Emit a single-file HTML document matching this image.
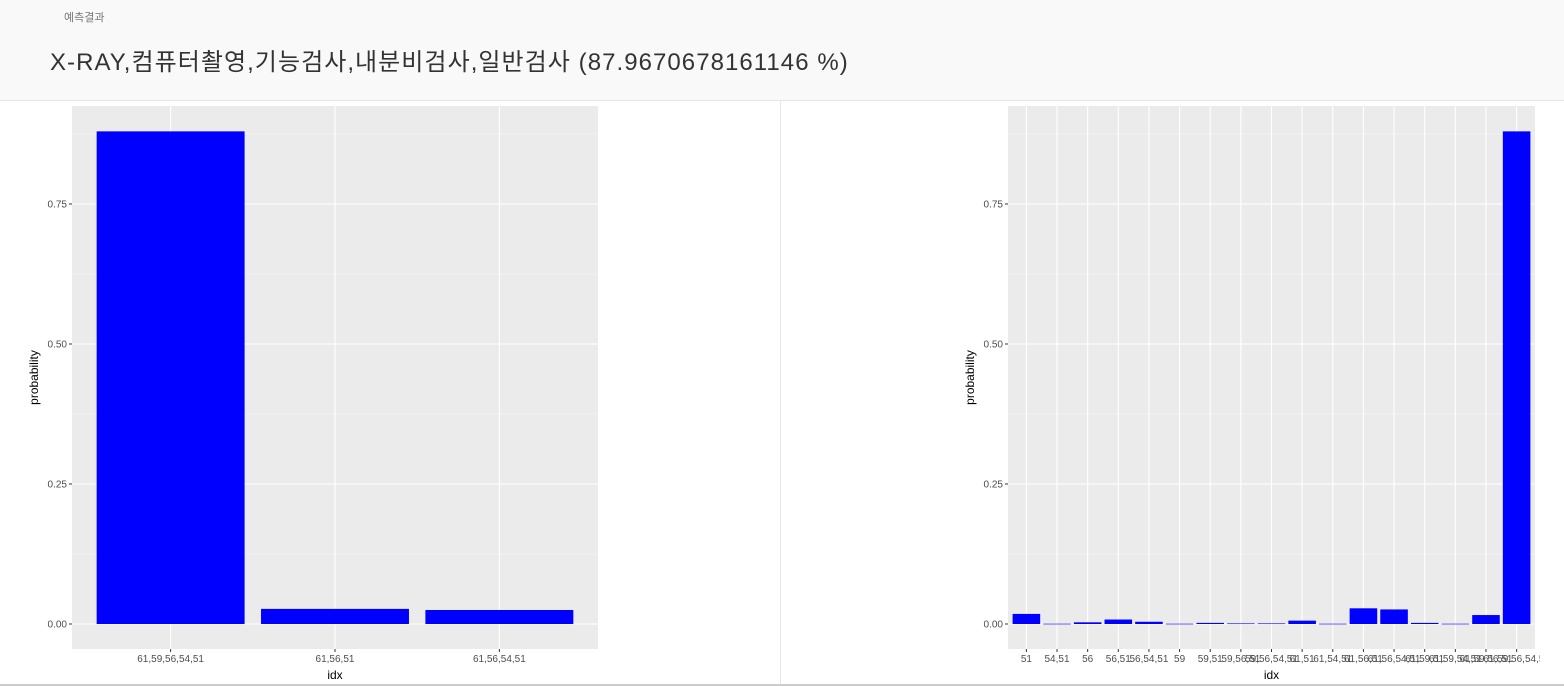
<!DOCTYPE html>
<html><head><meta charset="utf-8"><style>
body{margin:0;width:1564px;height:687px;overflow:hidden;background:#fff;font-family:"Liberation Sans","Noto Sans CJK KR",sans-serif;}
#hdr{position:absolute;left:0;top:0;width:1564px;height:100px;background:#f9f9f9;border-bottom:1px solid #e6e6e6;}
#lbl{position:absolute;left:64px;top:9px;font-size:11px;color:#777;}
#ttl{position:absolute;left:50px;top:42px;font-size:24px;color:#333;white-space:nowrap;letter-spacing:1.05px;}
#div{position:absolute;left:780px;top:101px;width:1px;height:584px;background:#e6e6e6;}
#bot{position:absolute;left:0;top:684px;width:1564px;height:2px;background:#ccc;}
svg{position:absolute;left:0;top:0;}
</style></head><body>
<div id="hdr">
<div id="lbl">예측결과</div>
<div id="ttl">X-RAY,컴퓨터촬영,기능검사,내분비검사,일반검사 (87.9670678161146 %)</div>
</div>
<div id="div"></div>
<div id="bot"></div>
<svg id="s" width="1564" height="687">
<defs><clipPath id="rc"><rect x="781" y="100" width="759" height="587"/></clipPath></defs>
</svg>
<script>
const leftCats=["61,59,56,54,51","61,56,51","61,56,54,51"];
const leftVals=[0.8797,0.027,0.025];
const rightCats=["51","54,51","56","56,51","56,54,51","59","59,51","59,56,51","59,56,54,51","61,51","61,54,51","61,56,51","61,56,54,51","61,59,51","61,59,54,51","61,59,56,51","61,59,56,54,51"];
const rightVals=[0.018,0.0005,0.003,0.008,0.004,0.0005,0.002,0.001,0.001,0.006,0.0005,0.028,0.026,0.002,0.0005,0.016,0.8797];
const yTicks=[0,0.25,0.5,0.75];
const yTickLabels=["0.00","0.25","0.50","0.75"];
const NS="http://www.w3.org/2000/svg";
const svg=document.getElementById('s');
function mk(tag,attrs,parent){const e=document.createElementNS(NS,tag);for(const k in attrs)e.setAttribute(k,attrs[k]);(parent||svg).appendChild(e);return e;}
function chart(x0,x1,cats,vals,name,clip){
  const top=106,bot=649,y0=624,ppu=560;
  const y=v=>y0-v*ppu;
  const n=cats.length,unit=(x1-x0)/(n-1+1.2);
  const x=i=>x0+(0.6+i)*unit;
  const g=mk('g',clip?{'clip-path':'url(#rc)'}:{});
  
  
  const bg=mk('rect',{x:x0,y:top,width:x1-x0,height:bot-top,fill:'#ebebeb'},g);
  
  
  [0.125,0.375,0.625,0.875].forEach(v=>{mk('line',{x1:x0,x2:x1,y1:y(v),y2:y(v),stroke:'#f5f5f5','stroke-width':0.6},g);});
  yTicks.forEach((v,i)=>{
    mk('line',{x1:x0,x2:x1,y1:y(v),y2:y(v),stroke:'#fff','stroke-width':1.1},g);
    mk('line',{x1:x0-3,x2:x0,y1:y(v),y2:y(v),stroke:'#333','stroke-width':1},g);
    const t=mk('text',{x:x0-5,y:y(v)+3.5,'text-anchor':'end','font-size':'10','fill':'#4d4d4d'},g);
    t.textContent=yTickLabels[i];
    
    
  });
  cats.forEach((c,i)=>{
    mk('line',{x1:x(i),x2:x(i),y1:top,y2:bot,stroke:'#fff','stroke-width':1.1},g);
  });
  cats.forEach((c,i)=>{
    const w=unit*0.9;
    const r=mk('rect',{x:x(i)-w/2,y:y(vals[i]),width:w,height:Math.max(0.6,vals[i]*ppu),fill:'#0000ff'},g);
    
    
    mk('line',{x1:x(i),x2:x(i),y1:bot,y2:bot+3,stroke:'#333','stroke-width':1},g);
    const t=mk('text',{x:x(i),y:bot+13,'text-anchor':'middle','font-size':'10','fill':'#4d4d4d'},g);
    t.textContent=c;
    
    
  });
  const xt=mk('text',{x:(x0+x1)/2,y:679,'text-anchor':'middle','font-size':'12','fill':'#000'},g);
  xt.textContent='idx';
  
  
  const yt=mk('text',{x:0,y:0,'text-anchor':'middle','font-size':'12','fill':'#000',transform:`translate(${x0-34},${(top+bot)/2}) rotate(-90)`},g);
  yt.textContent='probability';
  
  
}
chart(72,598,leftCats,leftVals,'left-chart',false);
chart(1008,1535,rightCats,rightVals,'right-chart',true);
</script>
</body></html>
